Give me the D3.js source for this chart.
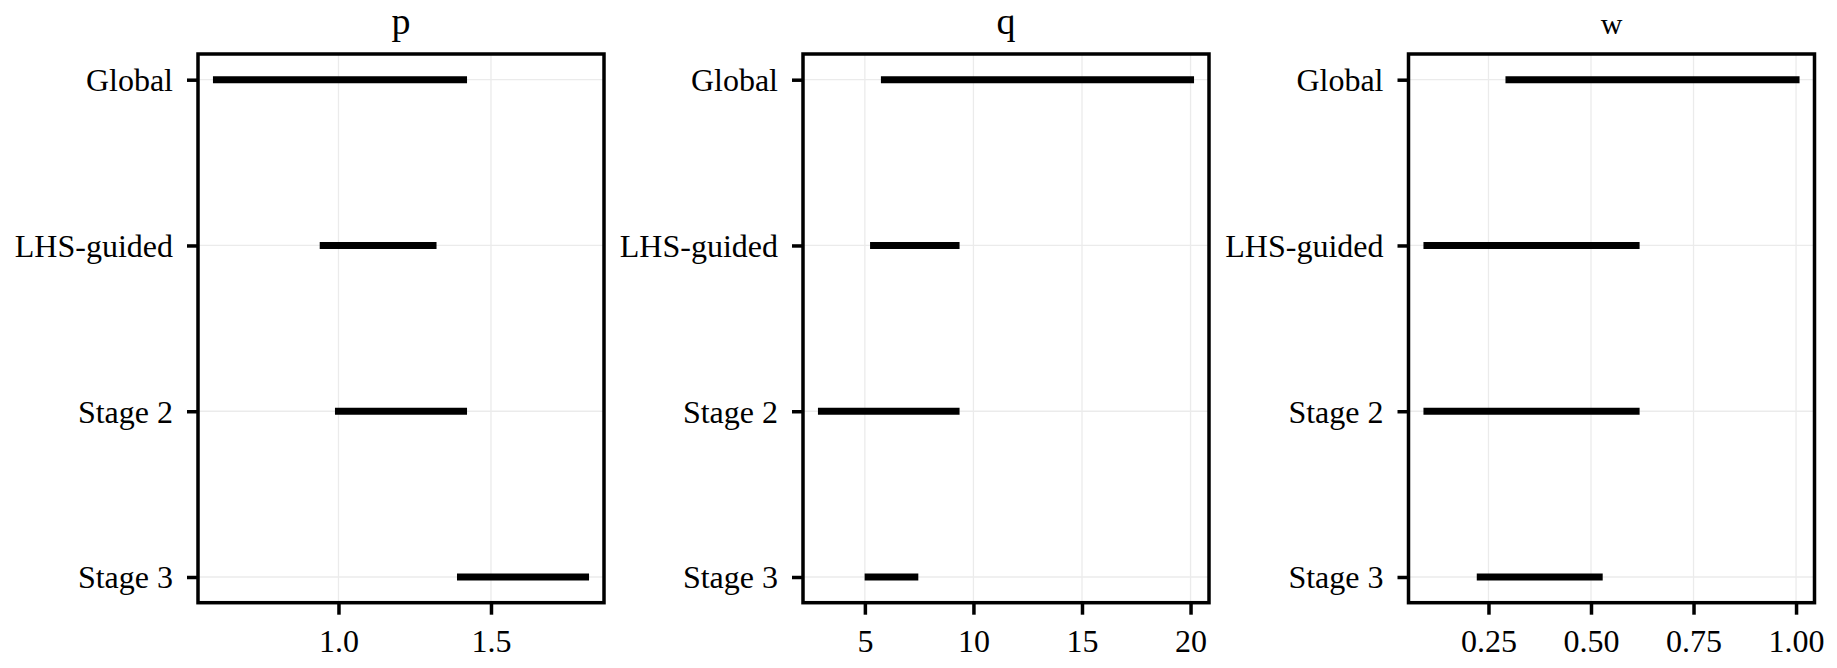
<!DOCTYPE html>
<html><head><meta charset="utf-8">
<script src="https://cdn.jsdelivr.net/npm/d3@7"></script>
<style>body{margin:0;background:#fff}svg{display:block}</style>
</head><body>
<svg id="chart" width="1837" height="668"></svg>
<script>
const categories = ["Global", "LHS-guided", "Stage 2", "Stage 3"];
const panelTitles = ["p", "q", "w"];
const pLow  = [0.60, 0.95, 1.00, 1.40];
const pHigh = [1.41, 1.31, 1.41, 1.81];
const qLow  = [5.9, 5.4, 3.0, 5.15];
const qHigh = [20.0, 9.2, 9.2, 7.3];
const wLow  = [0.30, 0.10, 0.10, 0.23];
const wHigh = [1.00, 0.61, 0.61, 0.52];
const pTicks = [1.0, 1.5];
const qTicks = [5, 10, 15, 20];
const wTicks = [0.25, 0.50, 0.75, 1.00];

const panels = [
  {title: panelTitles[0], low: pLow, high: pHigh, ticks: pTicks, fmt: d3.format(".1f"), tsize: 38},
  {title: panelTitles[1], low: qLow, high: qHigh, ticks: qTicks, fmt: d3.format("d"), tsize: 38},
  {title: panelTitles[2], low: wLow, high: wHigh, ticks: wTicks, fmt: d3.format(".2f"), tsize: 30}
];

const svg = d3.select("#chart");
svg.append("rect").attr("width",1837).attr("height",668).attr("fill","#fff");
const font = "'Liberation Serif','Times New Roman',serif";
const lefts = [198, 803, 1408.5];
const W = 406, boxTop = 54, boxBottom = 602.7;

panels.forEach((pn, i) => {
  const g = svg.append("g").attr("transform", `translate(${lefts[i]},0)`);
  const mn = d3.min(pn.low), mx = d3.max(pn.high), ex = (mx - mn) * 0.05;
  const x = d3.scaleLinear().domain([mn - ex, mx + ex]).range([0, W]);
  const y = d3.scalePoint().domain(categories).range([boxTop, boxBottom]).padding(0.155);

  // grid
  g.selectAll(".gx").data(pn.ticks).join("line")
    .attr("x1", d => x(d)).attr("x2", d => x(d)).attr("y1", boxTop).attr("y2", boxBottom)
    .attr("stroke", "#ebebeb").attr("stroke-width", 1.3);
  g.selectAll(".gy").data(categories).join("line")
    .attr("x1", 0).attr("x2", W).attr("y1", d => y(d)).attr("y2", d => y(d))
    .attr("stroke", "#ebebeb").attr("stroke-width", 1.3);

  // bars
  g.selectAll(".bar").data(categories).join("line")
    .attr("x1", (d, j) => x(pn.low[j])).attr("x2", (d, j) => x(pn.high[j]))
    .attr("y1", d => y(d)).attr("y2", d => y(d))
    .attr("stroke", "#000").attr("stroke-width", 7).attr("stroke-linecap", "square");

  // axes
  const xa = g.append("g").attr("transform", `translate(0,${boxBottom})`)
    .call(d3.axisBottom(x).tickValues(pn.ticks).tickFormat(pn.fmt).tickSize(12).tickPadding(8));
  const ya = g.append("g")
    .call(d3.axisLeft(y).tickSize(11).tickPadding(14));
  [xa, ya].forEach(a => {
    a.select(".domain").remove();
    a.selectAll(".tick line").attr("stroke", "#000").attr("stroke-width", 3.5);
    a.selectAll(".tick text").attr("fill", "#000").style("font-family", font).style("font-size", "32px");
  });
  xa.selectAll(".tick text").attr("dy", "0.92em");
  ya.selectAll(".tick text").attr("dy", "0.34em");

  // border
  g.append("rect").attr("x", 0).attr("y", boxTop).attr("width", W).attr("height", boxBottom - boxTop)
    .attr("fill", "none").attr("stroke", "#000").attr("stroke-width", 3.5);

  // title
  g.append("text").attr("x", W / 2).attr("y", 34).attr("text-anchor", "middle")
    .style("font-family", font).style("font-size", pn.tsize + "px").text(pn.title);
});
</script>
</body></html>
